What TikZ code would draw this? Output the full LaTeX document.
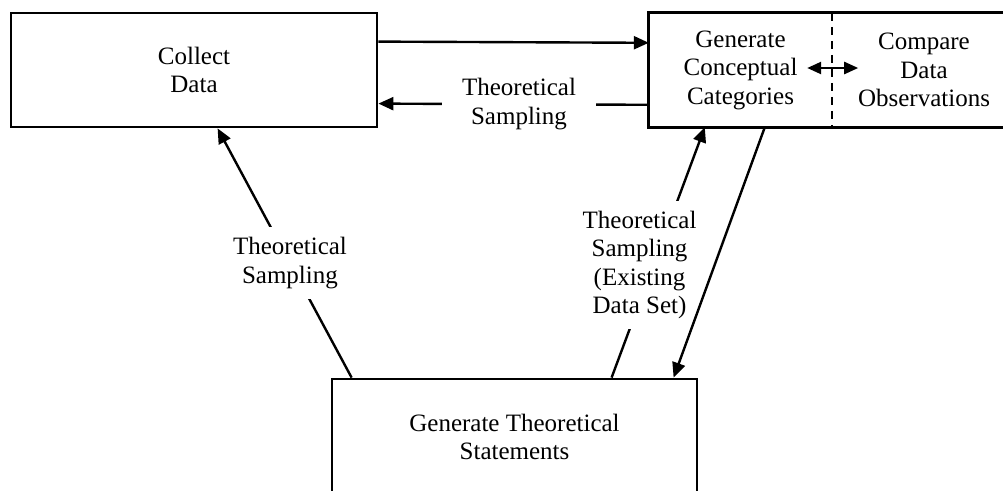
\documentclass[tikz,border=0pt]{standalone}
\usepackage{fontspec}
\setmainfont{Liberation Serif}
\usetikzlibrary{arrows.meta,calc}
\begin{document}
\begin{tikzpicture}[x=1pt,y=-1pt,
  every node/.style={font=\fontsize{25}{28.5}\selectfont, align=center},
  box/.style={draw, line width=2.8pt, rectangle, inner sep=0pt},
  part/.style={rectangle, inner sep=0pt},
  conn/.style={line width=2.4pt},
  tip/.style={-{Triangle[length=15pt,width=13pt]}},
  dtip/.style={{Triangle[length=14pt,width=12pt]}-{Triangle[length=14pt,width=12pt]}},
  lbl/.style={fill=white, inner xsep=14pt, inner ysep=14pt}]
\useasboundingbox (0,0) rectangle (1003,490);

% process boxes
\node[box, minimum width=366pt, minimum height=114pt] (collect) at (194,70) {Collect\\Data};
\node[part, minimum width=183pt, minimum height=114pt] (gen) at (740.5,70) {Generate\\Conceptual\\Categories};
\node[part, minimum width=184pt, minimum height=114pt] (cmp) at (924,70) {Compare\\Data\\Observations};
\draw[line width=2.8pt] (gen.north west) rectangle (cmp.south east);
\draw[line width=1.6pt, dash pattern=on 8pt off 6pt] (gen.north east) -- (gen.south east);
\node[box, minimum width=365pt, minimum height=116pt] (stmt) at (514.5,437) {Generate Theoretical\\Statements};

% connectors
\draw[conn, tip] ([yshift=-30pt]collect.north east) -- ([yshift=-30pt]gen.north west);
\draw[conn, tip] ([yshift=-92pt]gen.north west) -- ([yshift=-92pt]collect.north east)
  node[lbl, pos=0.48, inner xsep=20pt, inner ysep=4pt] (l1) {Theoretical\\Sampling};
\draw[conn, dtip] ([xshift=-25pt,yshift=2pt]gen.east) -- ([xshift=26pt,yshift=2pt]gen.east);

\draw[conn, tip] ([xshift=21pt]stmt.north west) -- ([xshift=208pt]collect.south west)
  node[lbl, pos=0.46, inner ysep=10pt] (l2) {Theoretical\\Sampling};
\draw[conn, tip] ([xshift=281pt]stmt.north west) -- ([xshift=56pt]gen.south west)
  node[lbl, pos=0.45, xshift=-14pt, inner xsep=2pt, inner ysep=10pt] (l3) {Theoretical\\Sampling\\(Existing\\Data Set)};
\draw[conn, tip] ([xshift=116pt]gen.south west) -- ([xshift=343pt]stmt.north west);
\end{tikzpicture}
\end{document}
